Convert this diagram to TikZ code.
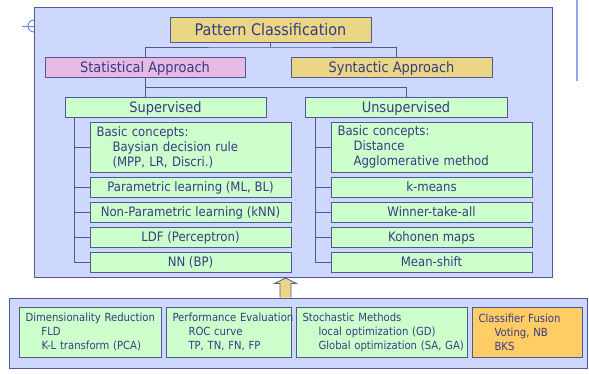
\documentclass[tikz,border=0pt]{standalone}
\usepackage{fontspec}
\setmainfont{DejaVu Sans}[FakeStretch=0.9]

\definecolor{panelfill}{RGB}{206,216,252}
\definecolor{edgeblue}{RGB}{82,88,150}
\definecolor{textblue}{RGB}{55,60,130}
\definecolor{leaffill}{RGB}{204,255,204}
\definecolor{goldfill}{RGB}{234,214,132}
\definecolor{pinkfill}{RGB}{230,186,228}
\definecolor{orangefill}{RGB}{255,204,102}
\definecolor{markblue}{RGB}{110,125,235}

\newcommand{\indline}{\hspace*{16pt}}

\tikzset{
  box/.style={draw=edgeblue, line width=1pt, inner sep=0pt, text=textblue},
  panel/.style={box, fill=panelfill},
  headbox/.style={box, text height=10.5pt, text depth=0pt, minimum width=201pt, minimum height=20pt, font=\fontsize{14.4}{17}\selectfont},
  leaf/.style={box, text height=9.5pt, text depth=0pt, fill=leaffill, minimum width=201pt, minimum height=20pt, font=\fontsize{13}{15}\selectfont},
  multileaf/.style={box, fill=leaffill, minimum width=201pt, minimum height=50pt, inner xsep=6.5pt, text width=188pt, align=left, font=\fontsize{13}{15}\selectfont},
  toolbox/.style={box, minimum height=50pt, inner xsep=6.5pt, align=left, font=\fontsize{11.2}{14}\selectfont},
  link/.style={draw=edgeblue, line width=1pt},
}

\begin{document}
\begin{tikzpicture}[x=1pt, y=-1pt]
    \useasboundingbox (0,0) rectangle (589,373);

    % slide marks
    \draw[markblue, line width=0.9pt] (34,32) arc[start angle=90, end angle=270, radius=6];
    \draw[markblue, line width=0.9pt] (22,26) -- (34,26);
    \draw[markblue!70, line width=1.2pt] (577,0) -- (577,81);

    % frames
    \node[panel, minimum width=518pt, minimum height=270pt] (main) at (293,142) {};
    \node[panel, minimum width=578pt, minimum height=70pt] (tools) at (298,333) {};

    % top of the tree
    \node[box, text height=11.7pt, text depth=0pt, fill=goldfill, minimum width=201pt, minimum height=25pt, font=\fontsize{16}{19}\selectfont] (pc) at (270.5,29.5) {Pattern Classification};
    \node[headbox, fill=pinkfill, minimum width=200pt] (stat) at (145,67) {Statistical Approach};
    \node[headbox, fill=goldfill] (syn) at (391.5,67) {Syntactic Approach};
    \node[headbox, fill=leaffill] (sup) at (165.5,107) {Supervised};
    \node[headbox, fill=leaffill, minimum width=202pt] (unsup) at (406,107) {Unsupervised};

    \coordinate (j1) at (270.5,47);
    \draw[link] (pc.south) -- (j1);
    \draw[link] (stat.north) |- (j1) -| ([xshift=5]syn.north);
    \draw[link] (stat.south) -- (stat.south |- sup.north);
    \draw[link] (stat.south) |- ++(0,10) -| (unsup.north);

    % supervised methods
    \node[multileaf] (s1) at (190.5,147) {Basic concepts:\\\indline Baysian decision rule\\\indline (MPP, LR, Discri.)};
    \node[leaf] (s2) at (190.5,187) {Parametric learning (ML, BL)};
    \node[leaf] (s3) at (190.5,212) {Non-Parametric learning (kNN)};
    \node[leaf] (s4) at (190.5,237) {LDF (Perceptron)};
    \node[leaf] (s5) at (190.5,262) {NN (BP)};

    % unsupervised methods
    \node[multileaf] (u1) at (431.5,147) {Basic concepts:\\\indline Distance\\\indline Agglomerative method};
    \node[leaf] (u2) at (431.5,187) {k-means};
    \node[leaf] (u3) at (431.5,212) {Winner-take-all};
    \node[leaf] (u4) at (431.5,237) {Kohonen maps};
    \node[leaf] (u5) at (431.5,262) {Mean-shift};

    \foreach \n in {s1,s2,s3,s4,s5}
        \draw[link] ([xshift=10]sup.south west) |- (\n.west);
    \foreach \n in {u1,u2,u3,u4,u5}
        \draw[link] ([xshift=11]unsup.south west) |- (\n.west);

    % supporting tools
    \node[toolbox, fill=leaffill, minimum width=142pt, text width=129pt] (b1) at (90,332) {\mbox{Dimensionality Reduction}\\\indline FLD\\\indline\mbox{K-L transform (PCA)}};
    \node[toolbox, fill=leaffill, minimum width=125pt, text width=112pt] (b2) at (228.5,332) {\mbox{Performance Evaluation}\\\indline ROC curve\\\indline\mbox{TP, TN, FN, FP}};
    \node[toolbox, fill=leaffill, minimum width=171pt, text width=158pt] (b3) at (381.5,332) {\mbox{Stochastic Methods}\\\indline\mbox{local optimization (GD)}\\\indline\mbox{Global optimization (SA, GA)}};
    \node[toolbox, fill=orangefill, minimum width=110pt, text width=97pt] (b4) at (527,332) {\mbox{Classifier Fusion}\\\indline Voting, NB\\\indline BKS};

    % arrow from the tools up to the classifier panel
    \draw[draw=edgeblue, fill=goldfill, line width=0.8pt]
        (280,297.5) -- (280,283.5) -- (274.5,283.5) -- (285.5,278) -- (296.5,283.5) -- (291,283.5) -- (291,297.5);
\end{tikzpicture}
\end{document}
